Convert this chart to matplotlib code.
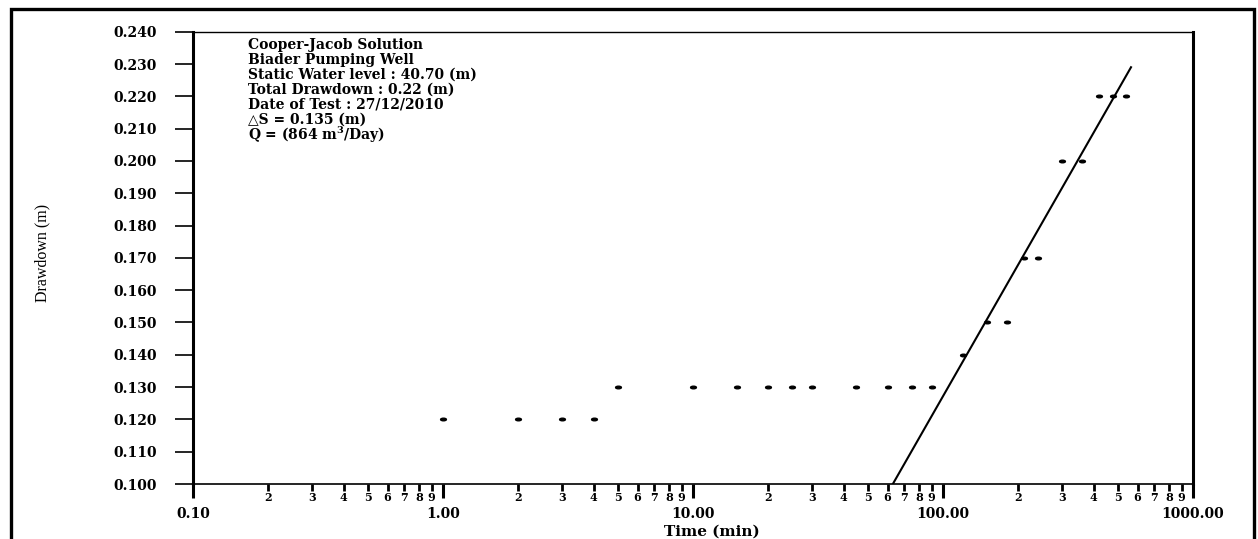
import numpy as np
import matplotlib.pyplot as plt
from matplotlib.path import Path
from matplotlib.patches import Rectangle
from matplotlib.ticker import FixedLocator, FixedFormatter, NullFormatter

# pumping test readings
time_min = [1, 2, 3, 4, 5, 10, 15, 20, 25, 30, 45, 60, 75, 90,
            120, 150, 180, 210, 240, 300, 360, 420, 480, 540]
drawdown_m = [0.12, 0.12, 0.12, 0.12, 0.13, 0.13, 0.13, 0.13, 0.13, 0.13, 0.13, 0.13, 0.13, 0.13,
              0.14, 0.15, 0.15, 0.17, 0.17, 0.20, 0.20, 0.22, 0.22, 0.22]

# Cooper-Jacob straight line (end points)
fit_time = [63, 565]
fit_drawdown = [0.100, 0.229]

major_x = [0.1, 1, 10, 100, 1000]
major_x_labels = ["0.10", "1.00", "10.00", "100.00", "1000.00"]
minor_digits = [2, 3, 4, 5, 6, 7, 8, 9]
y_ticks = [0.100, 0.110, 0.120, 0.130, 0.140, 0.150, 0.160, 0.170,
           0.180, 0.190, 0.200, 0.210, 0.220, 0.230, 0.240]

info_lines = [
    "Cooper-Jacob Solution",
    "Biader Pumping Well",
    "Static Water level : 40.70 (m)",
    "Total Drawdown : 0.22 (m)",
    "Date of Test : 27/12/2010",
    "\u25b3S = 0.135 (m)",
    r"Q = (864 m$^{\mathbf{3}}$/Day)",
]

plt.rcParams['mathtext.fontset'] = 'custom'
plt.rcParams['mathtext.rm'] = 'DejaVu Serif:bold'
plt.rcParams['mathtext.bf'] = 'DejaVu Serif:bold'
serif = ['DejaVu Serif']

fig = plt.figure(figsize=(12.58, 5.39), dpi=100)
ax = fig.add_axes([193 / 1258, 1 - 484 / 539, 1000 / 1258, (484 - 31.7) / 539])

# flattened dot marker
circle = Path.unit_circle()
dot = Path(circle.vertices * np.array([1.0, 0.45]), circle.codes)

ax.plot(time_min, drawdown_m, linestyle='none', marker=dot, markersize=4.2,
        color='black', zorder=3)
ax.plot(fit_time, fit_drawdown, color='black', lw=1.5, zorder=2)

ax.set_xscale('log')
ax.set_xlim(0.1, 1000)
ax.set_ylim(0.100, 0.240)

minor_x = [d * dec for dec in major_x[:-1] for d in minor_digits]
ax.xaxis.set_major_locator(FixedLocator(major_x))
ax.xaxis.set_major_formatter(FixedFormatter(major_x_labels))
ax.xaxis.set_minor_locator(FixedLocator(minor_x))
ax.xaxis.set_minor_formatter(FixedFormatter([str(d) for dec in major_x[:-1] for d in minor_digits]))

ax.yaxis.set_major_locator(FixedLocator(y_ticks))
ax.yaxis.set_major_formatter(FixedFormatter(["%.3f" % v for v in y_ticks]))
ax.yaxis.set_minor_formatter(NullFormatter())

ax.tick_params(axis='x', which='major', direction='out', length=10, width=2.2, pad=6.5)
ax.tick_params(axis='x', which='minor', direction='out', length=5, width=2.0, pad=0.8)
ax.tick_params(axis='y', which='major', direction='out', length=13, width=1.2, pad=13)
ax.tick_params(axis='y', which='minor', length=0)

for lab in ax.get_xticklabels(which='major') + ax.get_yticklabels():
    lab.set_family(serif)
    lab.set_fontweight('bold')
    lab.set_fontsize(10)
for lab in ax.get_xticklabels(which='minor'):
    lab.set_family(serif)
    lab.set_fontweight('bold')
    lab.set_fontsize(8)

ax.spines['left'].set_linewidth(2.2)
ax.spines['right'].set_linewidth(2.2)
ax.spines['bottom'].set_linewidth(1.2)
ax.spines['top'].set_linewidth(1.0)

ax.set_xlabel("Time (min)", family=serif, fontweight='bold', fontsize=11)
ax.xaxis.set_label_coords((712 - 193) / 1000, (484 - 532) / 452.3)
ax.xaxis.label.set_va('center')
ax.set_ylabel("Drawdown (m)", family=['Liberation Serif'], fontsize=11.5)
ax.yaxis.set_label_coords((42 - 193) / 1000, (484 - 253) / 452.3)
ax.yaxis.label.set_va('center')

for i, line in enumerate(info_lines):
    y_pix = 45 + 15 * i
    ax.text((248 - 193) / 1000, (484 - y_pix) / 452.3, line,
            transform=ax.transAxes, ha='left', va='center',
            family=['DejaVu Serif'], fontweight='bold', fontsize=10)

# outer frame
frame = Rectangle((11 / 1258, -0.1), (1254 - 11) / 1258, 1 - 8.5 / 539 + 0.1,
                  transform=fig.transFigure, fill=False, lw=2.4,
                  edgecolor='black', clip_on=False)
fig.add_artist(frame)

fig.savefig("out.png", dpi=100)
